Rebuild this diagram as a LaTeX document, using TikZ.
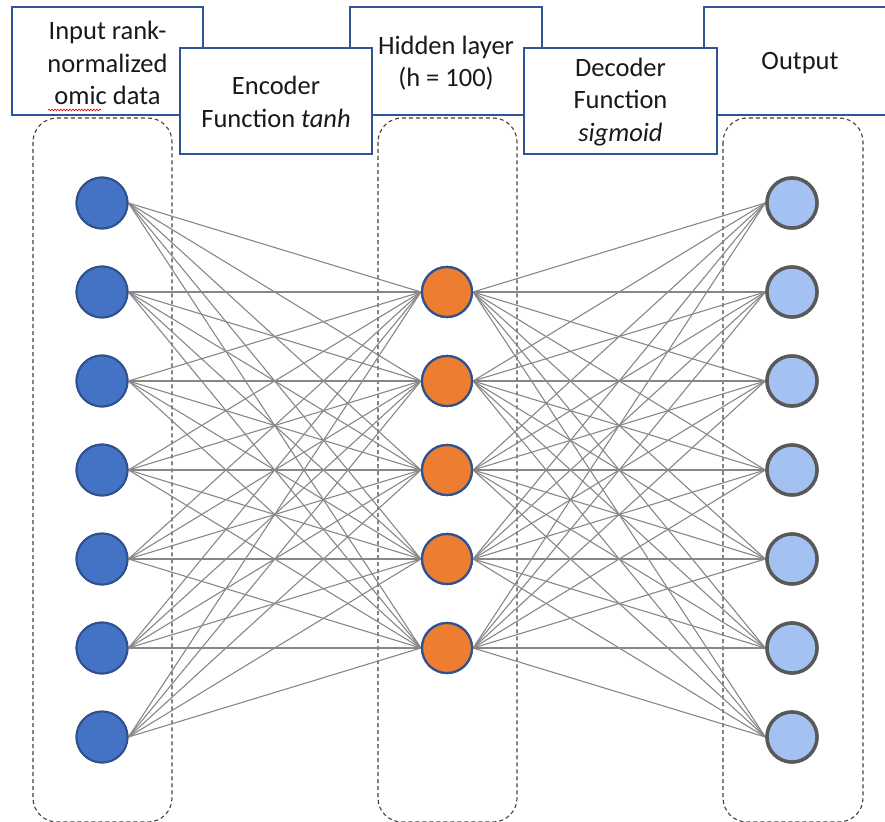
\documentclass[tikz,border=0pt]{standalone}
\usepackage{fontspec}
\setmainfont{Carlito}
\usetikzlibrary{decorations.pathmorphing}
\definecolor{boxblue}{RGB}{47,85,151}
\definecolor{infill}{RGB}{68,114,196}
\definecolor{instroke}{RGB}{47,82,143}
\definecolor{hidfill}{RGB}{237,125,49}
\definecolor{outfill}{RGB}{163,194,241}
\definecolor{outstroke}{RGB}{89,89,89}
\definecolor{edgegray}{RGB}{135,135,135}
\definecolor{dashgray}{RGB}{64,64,64}
\begin{document}
\begin{tikzpicture}[x=1pt,y=-1pt,
  lbl/.style={draw=boxblue,line width=1.6pt,fill=white,inner sep=0pt},
  lbltext/.style={align=center,inner sep=0pt,font=\fontsize{26.5}{32.5}\selectfont,text=black!90},
  group/.style={draw=dashgray,dash pattern=on 4pt off 3pt,line width=1.1pt,rounded corners=24pt},
  inn/.style={circle,draw=instroke,line width=2pt,fill=infill,minimum size=51pt,inner sep=0pt},
  hid/.style={circle,draw=instroke,line width=2.2pt,fill=hidfill,minimum size=50pt,inner sep=0pt},
  outn/.style={circle,draw=outstroke,line width=3.4pt,fill=outfill,minimum size=50pt,inner sep=0pt},
  conn/.style={draw=edgegray,line width=1.1pt}]
\useasboundingbox (0,0) rectangle (885,821);
\clip (0,0) rectangle (885,821);
% dashed groups
\draw[group] (33,118) rectangle (172,822);
\draw[group] (378,118) rectangle (517,822);
\draw[group] (723,118) rectangle (863,822);
% label boxes
\node[lbl,minimum width=191pt,minimum height=108pt] (inbox) at (107.5,61) {};
\node[lbltext] (intext) at ([yshift=-2pt]inbox.center) {Input rank-\\normalized\\omic data};
\node[lbl,minimum width=192pt,minimum height=108pt] (hidbox) at (446,61) {};
\node[lbltext] (hidtext) at ([yshift=-2pt]hidbox.center) {Hidden layer\\(h = 100)};
\node[lbl,minimum width=192pt,minimum height=108pt] (outbox) at (800,61) {};
\node[lbltext] (outtext) at ([yshift=-2pt]outbox.center) {Output};
\node[lbl,minimum width=192pt,minimum height=106pt] (encbox) at (276,101) {};
\node[lbltext] (enctext) at ([yshift=-1pt]encbox.center) {Encoder\\Function \textit{tanh}};
\node[lbl,minimum width=193pt,minimum height=106pt] (decbox) at (620.5,101) {};
\node[lbltext] (dectext) at ([yshift=-1pt]decbox.center) {Decoder\\Function\\\textit{sigmoid}};
\coordinate (sqa) at (48,110);
\coordinate (sqb) at (101,110);
\draw[red!85!black,line width=0.6pt,decorate,decoration={snake,amplitude=0.9pt,segment length=3pt}] (sqa) -- (sqb);
% nodes
\foreach \i/\y in {1/203,2/292,3/381,4/470,5/559,6/648,7/737}{
  \node[inn] (i\i) at (102,\y) {};
  \node[outn] (o\i) at (792,\y) {};
}
\foreach \j/\y in {1/292,2/381,3/470,4/559,5/648}{
  \node[hid] (h\j) at (447,\y) {};
}
% connectors
\foreach \i in {1,...,7}{
  \foreach \j in {1,...,5}{
    \draw[conn] (i\i.east) -- (h\j.west);
    \draw[conn] (h\j.east) -- (o\i.west);
  }
}
% redraw nodes on top
\foreach \i in {1,...,7}{
  \node[inn] at (i\i) {};
  \node[outn] at (o\i) {};
}
\foreach \j in {1,...,5}{
  \node[hid] at (h\j) {};
}
\end{tikzpicture}
\end{document}
